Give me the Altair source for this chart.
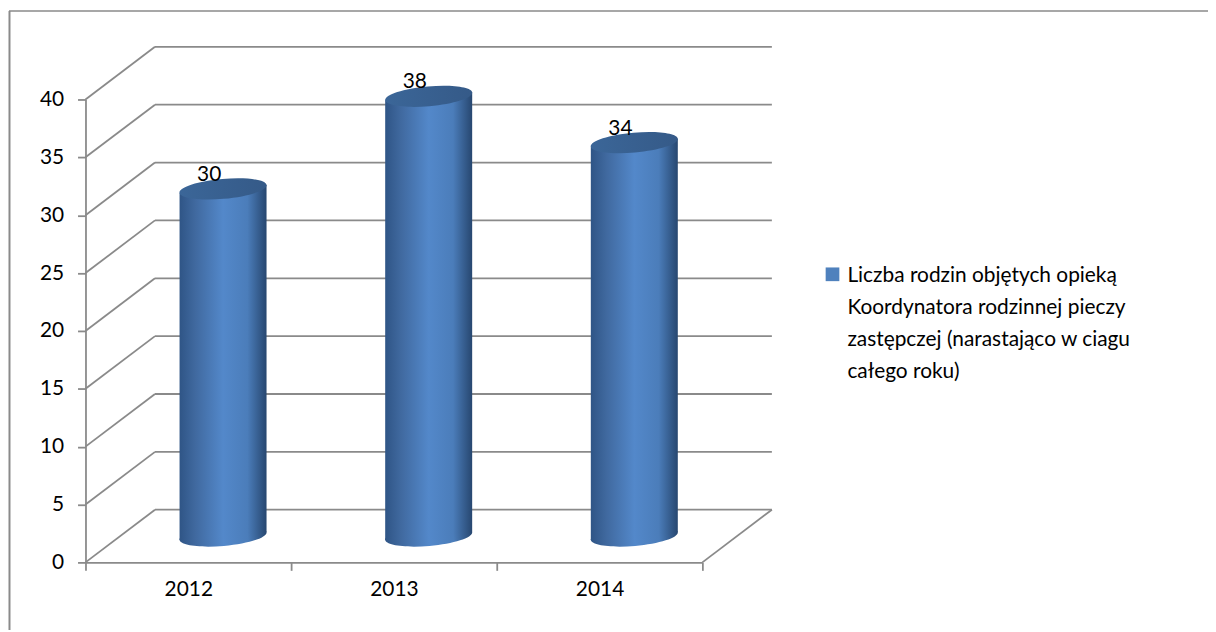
import altair as alt
import pandas as pd

years = [2012, 2013, 2014]
values = [30, 38, 34]
grid_values = [0, 5, 10, 15, 20, 25, 30, 35, 40]
x_ticks = [2011.5, 2012, 2012.5, 2013, 2013.5, 2014, 2014.5]
legend_text = ("Liczba rodzin objętych opieką|Koordynatora rodzinnej pieczy|"
               "zastępczej (narastająco w ciagu|całego roku)")

# oblique projection of the 3D box, in data units
DEPTH_X = 0.338
DEPTH_Y = 4.55
HALF_W = 0.2115
TILT = 0.34
X0, X1 = 2011.5, 2014.5

GREY = "#8a8a8a"
FONT = "Lato"
FS = 21
ELLIPSE = ("M-1,0C-1,-0.125,-0.552,-0.227,0,-0.227C0.552,-0.227,1,-0.125,1,0"
           "C1,0.125,0.552,0.227,0,0.227C-0.552,0.227,-1,0.125,-1,0Z")

body_fill = alt.Gradient(
    gradient="linear", x1=0, x2=1, y1=0, y2=0,
    stops=[
        alt.GradientStop(offset=0, color="#2f5586"),
        alt.GradientStop(offset=0.18, color="#40699f"),
        alt.GradientStop(offset=0.5, color="#5388ca"),
        alt.GradientStop(offset=0.78, color="#4b7dba"),
        alt.GradientStop(offset=1, color="#274770"),
    ],
)
cap_fill = alt.Gradient(
    gradient="linear", x1=0, x2=1, y1=0, y2=0,
    stops=[
        alt.GradientStop(offset=0, color="#3b6698"),
        alt.GradientStop(offset=1, color="#355a88"),
    ],
)

x_scale = alt.Scale(domain=[X0, X1], nice=False, zero=False)
y_scale = alt.Scale(domain=[0, 40], nice=False, zero=False)

lines = []
for v in grid_values:
    lines.append(dict(x=X0, x2=X0 + DEPTH_X, y=v, y2=v + DEPTH_Y))
    lines.append(dict(x=X0 + DEPTH_X, x2=X1 + DEPTH_X, y=v + DEPTH_Y, y2=v + DEPTH_Y))
lines.append(dict(x=X1, x2=X1 + DEPTH_X, y=0, y2=DEPTH_Y))
lines_df = pd.DataFrame(lines)

grid = alt.Chart(lines_df).mark_rule(color=GREY, strokeWidth=1.8).encode(
    x=alt.X(
        "x:Q", scale=x_scale, title=None,
        axis=alt.Axis(
            values=x_ticks, grid=False, tickSize=8, tickWidth=1.8, tickColor=GREY,
            tickOpacity={"condition": {"test": "datum.value % 1 != 0", "value": 1}, "value": 0},
            domainColor=GREY, domainWidth=1.8, labelFont=FONT, labelFontSize=FS,
            labelColor="#000000", labelPadding=8, labelOverlap=False, labelFlush=False,
            labelExpr="datum.value % 1 === 0 ? format(datum.value, 'd') : ''",
        ),
    ),
    x2="x2:Q",
    y=alt.Y(
        "y:Q", scale=y_scale, title=None,
        axis=alt.Axis(
            values=grid_values, grid=False, tickSize=8, tickWidth=1.8, tickColor=GREY,
            domainColor=GREY, domainWidth=1.8, labelFont=FONT, labelFontSize=FS,
            labelColor="#000000", labelPadding=14,
        ),
    ),
    y2="y2:Q",
)

body_rows = []
for yr, v in zip(years, values):
    cx = yr + DEPTH_X / 2
    base = DEPTH_Y / 2
    body_rows.append(dict(year=yr, x=cx - HALF_W, top=base + v - TILT, bottom=base - TILT))
    body_rows.append(dict(year=yr, x=cx + HALF_W, top=base + v + TILT, bottom=base + TILT))
body_df = pd.DataFrame(body_rows)

bodies = alt.Chart(body_df).mark_area(fill=body_fill, orient="vertical", opacity=1).encode(
    x=alt.X("x:Q", scale=x_scale),
    y=alt.Y("top:Q", scale=y_scale),
    y2="bottom:Q",
    detail="year:N",
)

cyl_df = pd.DataFrame({
    "year": years,
    "value": values,
    "cx": [yr + DEPTH_X / 2 for yr in years],
    "top": [v + DEPTH_Y / 2 for v in values],
    "base": [DEPTH_Y / 2] * len(years),
})

bottoms = alt.Chart(cyl_df).mark_point(
    shape=ELLIPSE, size=7744, filled=True, fill=body_fill, opacity=1, strokeWidth=0, angle=355
).encode(x=alt.X("cx:Q", scale=x_scale), y=alt.Y("base:Q", scale=y_scale))

caps = alt.Chart(cyl_df).mark_point(
    shape=ELLIPSE, size=7744, filled=True, fill=cap_fill, opacity=1, strokeWidth=0, angle=355
).encode(x=alt.X("cx:Q", scale=x_scale), y=alt.Y("top:Q", scale=y_scale))

labels = alt.Chart(cyl_df).mark_text(
    font=FONT, fontSize=FS, color="#000000", dx=-14, dy=-8, baseline="alphabetic", align="center"
).encode(x=alt.X("cx:Q", scale=x_scale), y=alt.Y("top:Q", scale=y_scale), text=alt.Text("value:Q"))

anchor = pd.DataFrame({"label": [legend_text]})
legend_key = alt.Chart(anchor).mark_point(
    shape="square", size=190, filled=True, color="#4f81bd", opacity=1, strokeWidth=0
).encode(x=alt.value(752), y=alt.value(176))
legend_label = alt.Chart(anchor).mark_text(
    font=FONT, fontSize=FS, color="#000000", align="left", baseline="alphabetic",
    lineBreak="|", lineHeight=32
).encode(x=alt.value(767), y=alt.value(184), text="label:N")

frame_top = alt.Chart(anchor).mark_rule(color=GREY, strokeWidth=1.5).encode(
    x=alt.value(-77), x2=alt.value(1130), y=alt.value(-89)
)
frame_left = alt.Chart(anchor).mark_rule(color=GREY, strokeWidth=2).encode(
    x=alt.value(-76.5), y=alt.value(-89), y2=alt.value(534)
)

chart = alt.layer(
    frame_top, frame_left, grid, bottoms, bodies, caps, labels, legend_key, legend_label
).properties(
    width=621, height=466,
    padding={"left": 78, "top": 90, "right": 509, "bottom": 68},
    autosize=alt.AutoSizeParams(type="none"),
).configure_view(stroke=None, clip=False)

chart.save("out.html", embed_options={"renderer": "svg", "actions": False})
